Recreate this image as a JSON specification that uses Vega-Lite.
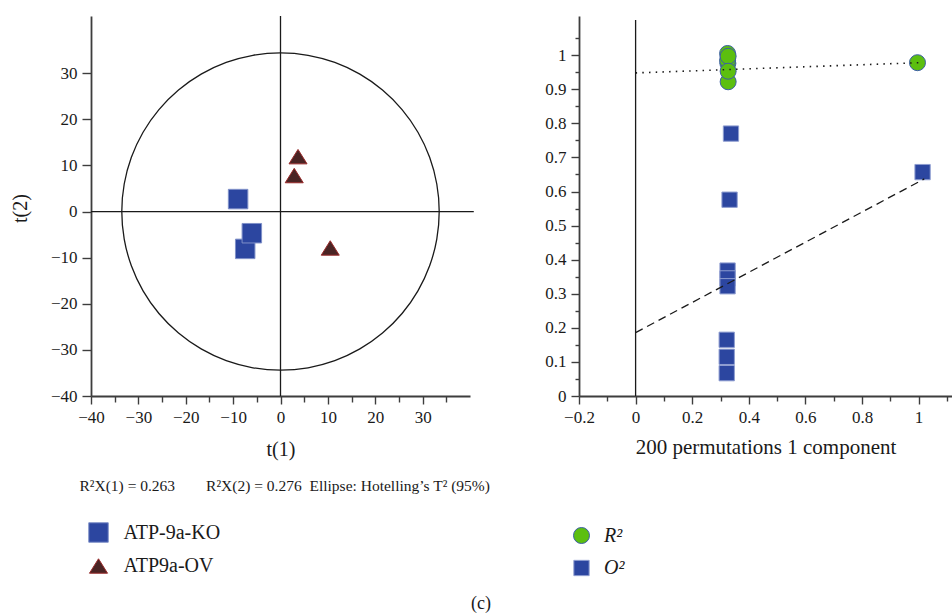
{
  "$schema": "https://vega.github.io/schema/vega-lite/v6.json",
  "background": "white",
  "autosize": {"type": "pad"},
  "padding": {"left": 10, "top": 15, "right": 0, "bottom": 0},
  "bounds": "flush",
  "spacing": 109,
  "resolve": {
    "scale": {"color": "independent", "shape": "independent", "stroke": "independent", "size": "independent"},
    "legend": {"color": "independent", "shape": "independent", "stroke": "independent", "size": "independent"}
  },
  "title": {"text": "(c)", "orient": "bottom", "anchor": "middle", "fontSize": 18, "font": "Liberation Serif", "fontWeight": "normal", "color": "#1a1a1a", "offset": 16},
  "config": {
    "view": {"stroke": null},
    "font": "Liberation Serif",
    "style": {"guide-label": {"font": "Liberation Serif"}, "guide-title": {"font": "Liberation Serif"}, "group-title": {"font": "Liberation Serif"}},
    "axis": {"domainColor": "#3d3d3d", "domainWidth": 1.8, "tickColor": "#3d3d3d", "tickWidth": 1.4, "labelFont": "Liberation Serif", "labelFontSize": 17, "labelColor": "#1a1a1a", "labelPadding": 5, "titleFont": "Liberation Serif", "titleFontSize": 20, "titleFontWeight": "normal", "titleColor": "#1a1a1a", "grid": false, "labelFlush": false, "labelOverlap": false},
    "legend": {"labelFont": "Liberation Serif", "labelFontSize": 20, "labelColor": "#1a1a1a", "padding": 0, "symbolOpacity": 1, "symbolStrokeWidth": 1}
  },
  "hconcat": [
    {
      "width": 379,
      "height": 380,
      "resolve": {"axis": {"x": "independent"}},
      "layer": [
        {
          "encoding": {
            "x": {"field": "x", "type": "quantitative", "scale": {"domain": [-40, 40], "nice": false, "zero": false},
              "axis": {"title": "t(1)", "labelFont": "Liberation Serif", "titleFont": "Liberation Serif", "values": [-40, -35, -30, -25, -20, -15, -10, -5, 0, 5, 10, 15, 20, 25, 30, 35], "labelExpr": "datum.value % 10 === 0 ? datum.label : ''", "tickSize": {"condition": {"test": "datum.value % 10 === 0", "value": 8}, "value": 6}, "titlePadding": 14}},
            "y": {"field": "y", "type": "quantitative", "scale": {"domain": [-40, 42.4], "nice": false, "zero": false},
              "axis": {"title": "t(2)", "labelFont": "Liberation Serif", "titleFont": "Liberation Serif", "values": [-40, -35, -30, -25, -20, -15, -10, -5, 0, 5, 10, 15, 20, 25, 30, 35], "labelExpr": "datum.value % 10 === 0 ? datum.label : ''", "tickSize": {"condition": {"test": "datum.value % 10 === 0", "value": 9}, "value": 6}, "titleX": -71, "titleY": 192, "titleAngle": 270, "titleBaseline": "middle", "titleAlign": "center"}}
          },
          "layer": [
            {
              "data": {"values": [
                {"i": 0, "x": 33.5, "y": 0}, {"i": 1, "x": 32.99, "y": 5.97}, {"i": 2, "x": 31.48, "y": 11.76}, {"i": 3, "x": 29.01, "y": 17.2},
                {"i": 4, "x": 25.66, "y": 22.11}, {"i": 5, "x": 21.53, "y": 26.35}, {"i": 6, "x": 16.75, "y": 29.79}, {"i": 7, "x": 11.46, "y": 32.33},
                {"i": 8, "x": 5.82, "y": 33.88}, {"i": 9, "x": 0, "y": 34.4}, {"i": 10, "x": -5.82, "y": 33.88}, {"i": 11, "x": -11.46, "y": 32.33},
                {"i": 12, "x": -16.75, "y": 29.79}, {"i": 13, "x": -21.53, "y": 26.35}, {"i": 14, "x": -25.66, "y": 22.11}, {"i": 15, "x": -29.01, "y": 17.2},
                {"i": 16, "x": -31.48, "y": 11.76}, {"i": 17, "x": -32.99, "y": 5.97}, {"i": 18, "x": -33.5, "y": 0}, {"i": 19, "x": -32.99, "y": -5.97},
                {"i": 20, "x": -31.48, "y": -11.76}, {"i": 21, "x": -29.01, "y": -17.2}, {"i": 22, "x": -25.66, "y": -22.11}, {"i": 23, "x": -21.53, "y": -26.35},
                {"i": 24, "x": -16.75, "y": -29.79}, {"i": 25, "x": -11.46, "y": -32.33}, {"i": 26, "x": -5.82, "y": -33.88}, {"i": 27, "x": 0, "y": -34.4},
                {"i": 28, "x": 5.82, "y": -33.88}, {"i": 29, "x": 11.46, "y": -32.33}, {"i": 30, "x": 16.75, "y": -29.79}, {"i": 31, "x": 21.53, "y": -26.35},
                {"i": 32, "x": 25.66, "y": -22.11}, {"i": 33, "x": 29.01, "y": -17.2}, {"i": 34, "x": 31.48, "y": -11.76}, {"i": 35, "x": 32.99, "y": -5.97}
              ]},
              "mark": {"type": "line", "interpolate": "cardinal-closed", "color": "#1a1a1a", "strokeWidth": 1.3},
              "encoding": {"order": {"field": "i", "type": "quantitative"}}
            },
            {
              "data": {"values": [{"x": 0, "y": -40, "y2": 42.4}]},
              "mark": {"type": "rule", "color": "#1a1a1a", "strokeWidth": 1.3},
              "encoding": {"y2": {"field": "y2"}}
            },
            {
              "data": {"values": [
                {"x": -8.95, "y": 2.7, "group": "ATP-9a-KO"},
                {"x": -7.45, "y": -8.1, "group": "ATP-9a-KO"},
                {"x": -6.05, "y": -4.7, "group": "ATP-9a-KO"},
                {"x": 3.7, "y": 11.9, "group": "ATP9a-OV"},
                {"x": 2.9, "y": 7.8, "group": "ATP9a-OV"},
                {"x": 10.5, "y": -7.9, "group": "ATP9a-OV"}
              ]},
              "mark": {"type": "point", "filled": true, "opacity": 1, "strokeWidth": 1},
              "encoding": {
                "color": {"field": "group", "type": "nominal", "scale": {"domain": ["ATP-9a-KO", "ATP9a-OV"], "range": ["#2c46a0", "#4a2424"]},
                  "legend": {"orient": "none", "legendX": -3, "legendY": 506, "title": null, "direction": "vertical", "symbolSize": 256, "labelOffset": 14.5, "rowPadding": 11, "labelFont": "Liberation Serif", "labelFontStyle": "normal"}},
                "shape": {"field": "group", "type": "nominal", "scale": {"domain": ["ATP-9a-KO", "ATP9a-OV"], "range": ["square", "M0,-1.1L1.375,1.1L-1.375,1.1Z"]},
                  "legend": {"orient": "none", "legendX": -3, "legendY": 506, "title": null, "direction": "vertical", "symbolSize": 256, "labelOffset": 14.5, "rowPadding": 11, "labelFont": "Liberation Serif", "labelFontStyle": "normal"}},
                "stroke": {"field": "group", "type": "nominal", "scale": {"domain": ["ATP-9a-KO", "ATP9a-OV"], "range": ["#7f90c8", "#9a2a2a"]},
                  "legend": {"orient": "none", "legendX": -3, "legendY": 506, "title": null, "direction": "vertical", "symbolSize": 256, "labelOffset": 14.5, "rowPadding": 11, "labelFont": "Liberation Serif", "labelFontStyle": "normal"}},
                "size": {"field": "group", "type": "nominal", "scale": {"domain": ["ATP-9a-KO", "ATP9a-OV"], "range": [380, 172]}, "legend": null}
              }
            },
            {
              "data": {"values": [{}]},
              "mark": {"type": "point", "shape": "M0,0L0.9,1.95L0,1.45L-0.9,1.95Z", "size": 144, "filled": true, "color": "#3d3d3d", "opacity": 1},
              "encoding": {"x": {"datum": -40}, "y": {"datum": 42.4}}
            },
            {
              "data": {"values": [{}]},
              "mark": {"type": "point", "shape": "M0,0L-1.95,-0.9L-1.45,0L-1.95,0.9Z", "size": 144, "filled": true, "color": "#3d3d3d", "opacity": 1},
              "encoding": {"x": {"datum": 40}, "y": {"datum": -40}}
            }
          ]
        },
        {
          "data": {"values": [{"x": -40, "x2": 40.8, "y": 0}]},
          "mark": {"type": "rule", "color": "#1a1a1a", "strokeWidth": 1.3},
          "encoding": {
            "x": {"field": "x", "type": "quantitative", "scale": {"domain": [-40, 40], "nice": false, "zero": false},
              "axis": {"orient": "bottom", "domain": false, "ticks": false, "labels": false, "title": "R²X(1) = 0.263\u00a0\u00a0\u00a0\u00a0\u00a0\u00a0\u00a0\u00a0R²X(2) = 0.276 \u00a0Ellipse: Hotelling’s T² (95%)", "titleFont": "Liberation Serif", "titleFontSize": 15.5, "titleX": -12, "titleY": 89, "titleAlign": "left", "titleAnchor": "start", "titleBaseline": "middle", "titleAngle": 0}},
            "x2": {"field": "x2"},
            "y": {"field": "y", "type": "quantitative"}
          }
        }
      ]
    },
    {
      "width": 373,
      "height": 380,
      "encoding": {
        "x": {"field": "x", "type": "quantitative", "scale": {"domain": [-0.2, 1.118], "nice": false, "zero": false},
          "axis": {"title": "200 permutations 1 component", "labelFont": "Liberation Serif", "titleFont": "Liberation Serif", "titleFontSize": 21, "format": "~g", "values": [-0.2, -0.1, 0, 0.1, 0.2, 0.3, 0.4, 0.5, 0.6, 0.7, 0.8, 0.9, 1, 1.1], "labelExpr": "abs(round(datum.value*10)) % 2 === 0 ? datum.label : ''", "tickSize": {"condition": {"test": "abs(round(datum.value*10)) % 2 === 0", "value": 8}, "value": 5}, "titlePadding": 11}},
        "y": {"field": "y", "type": "quantitative", "scale": {"domain": [0, 1.115], "nice": false, "zero": false},
          "axis": {"title": null, "labelFont": "Liberation Serif", "format": "~g", "values": [0, 0.05, 0.1, 0.15, 0.2, 0.25, 0.3, 0.35, 0.4, 0.45, 0.5, 0.55, 0.6, 0.65, 0.7, 0.75, 0.8, 0.85, 0.9, 0.95, 1, 1.05], "labelExpr": "round(datum.value*100) % 10 === 0 ? datum.label : ''", "tickSize": {"condition": {"test": "round(datum.value*100) % 10 === 0", "value": 8}, "value": 4}}}
      },
      "layer": [
        {
          "data": {"values": [{"x": 0, "y": 0, "y2": 1.103}]},
          "mark": {"type": "rule", "color": "#1a1a1a", "strokeWidth": 1.3},
          "encoding": {"y2": {"field": "y2"}}
        },
        {
          "data": {"values": [
            {"x": 0.337, "y": 0.77, "s": "O²"},
            {"x": 0.332, "y": 0.576, "s": "O²"},
            {"x": 0.325, "y": 0.368, "s": "O²"},
            {"x": 0.325, "y": 0.345, "s": "O²"},
            {"x": 0.325, "y": 0.322, "s": "O²"},
            {"x": 0.322, "y": 0.165, "s": "O²"},
            {"x": 0.322, "y": 0.115, "s": "O²"},
            {"x": 0.322, "y": 0.067, "s": "O²"},
            {"x": 1.014, "y": 0.657, "s": "O²"},
            {"x": 0.325, "y": 1.005, "s": "R²"},
            {"x": 0.326, "y": 0.976, "s": "R²"},
            {"x": 0.325, "y": 0.985, "s": "R²"},
            {"x": 0.327, "y": 0.922, "s": "R²"},
            {"x": 0.327, "y": 0.997, "s": "R²"},
            {"x": 0.327, "y": 0.953, "s": "R²"},
            {"x": 0.996, "y": 0.978, "s": "R²"}
          ]},
          "mark": {"type": "point", "filled": true, "opacity": 1, "strokeWidth": 1},
          "encoding": {
            "color": {"field": "s", "type": "nominal", "scale": {"domain": ["R²", "O²"], "range": ["#5cbf0f", "#2c46a0"]},
              "legend": {"orient": "none", "legendX": -8, "legendY": 509.5, "title": null, "direction": "vertical", "symbolSize": 470, "labelOffset": 12, "rowPadding": 12, "labelFont": "Liberation Serif", "labelFontStyle": "italic"}},
            "shape": {"field": "s", "type": "nominal", "scale": {"domain": ["R²", "O²"], "range": ["circle", "M-0.8,-0.8H0.8V0.8H-0.8Z"]},
              "legend": {"orient": "none", "legendX": -8, "legendY": 509.5, "title": null, "direction": "vertical", "symbolSize": 470, "labelOffset": 12, "rowPadding": 12, "labelFont": "Liberation Serif", "labelFontStyle": "italic"}},
            "stroke": {"field": "s", "type": "nominal", "scale": {"domain": ["R²", "O²"], "range": ["#3c5ea6", "#8e9dd0"]},
              "legend": {"orient": "none", "legendX": -8, "legendY": 509.5, "title": null, "direction": "vertical", "symbolSize": 470, "labelOffset": 12, "rowPadding": 12, "labelFont": "Liberation Serif", "labelFontStyle": "italic"}},
            "size": {"field": "s", "type": "nominal", "scale": {"domain": ["R²", "O²"], "range": [256, 366]}, "legend": null}
          }
        },
        {
          "data": {"values": [{"x": 0, "y": 0.948, "x2": 1, "y2": 0.978}]},
          "mark": {"type": "rule", "color": "#1a1a1a", "strokeWidth": 1.6, "strokeDash": [1.5, 5.2]},
          "encoding": {"x2": {"field": "x2"}, "y2": {"field": "y2"}}
        },
        {
          "data": {"values": [{"x": 0, "y": 0.186, "x2": 1.02, "y2": 0.637}]},
          "mark": {"type": "rule", "color": "#1a1a1a", "strokeWidth": 1.3, "strokeDash": [8, 5]},
          "encoding": {"x2": {"field": "x2"}, "y2": {"field": "y2"}}
        },
        {
          "data": {"values": [{}]},
          "mark": {"type": "point", "shape": "M0,0L0.9,1.95L0,1.45L-0.9,1.95Z", "size": 144, "filled": true, "color": "#3d3d3d", "opacity": 1},
          "encoding": {"x": {"datum": -0.2}, "y": {"datum": 1.115}}
        },
        {
          "data": {"values": [{}]},
          "mark": {"type": "point", "shape": "M0,0L-1.95,-0.9L-1.45,0L-1.95,0.9Z", "size": 144, "filled": true, "color": "#3d3d3d", "opacity": 1},
          "encoding": {"x": {"datum": 1.118}, "y": {"datum": 0}}
        }
      ]
    }
  ]
}
